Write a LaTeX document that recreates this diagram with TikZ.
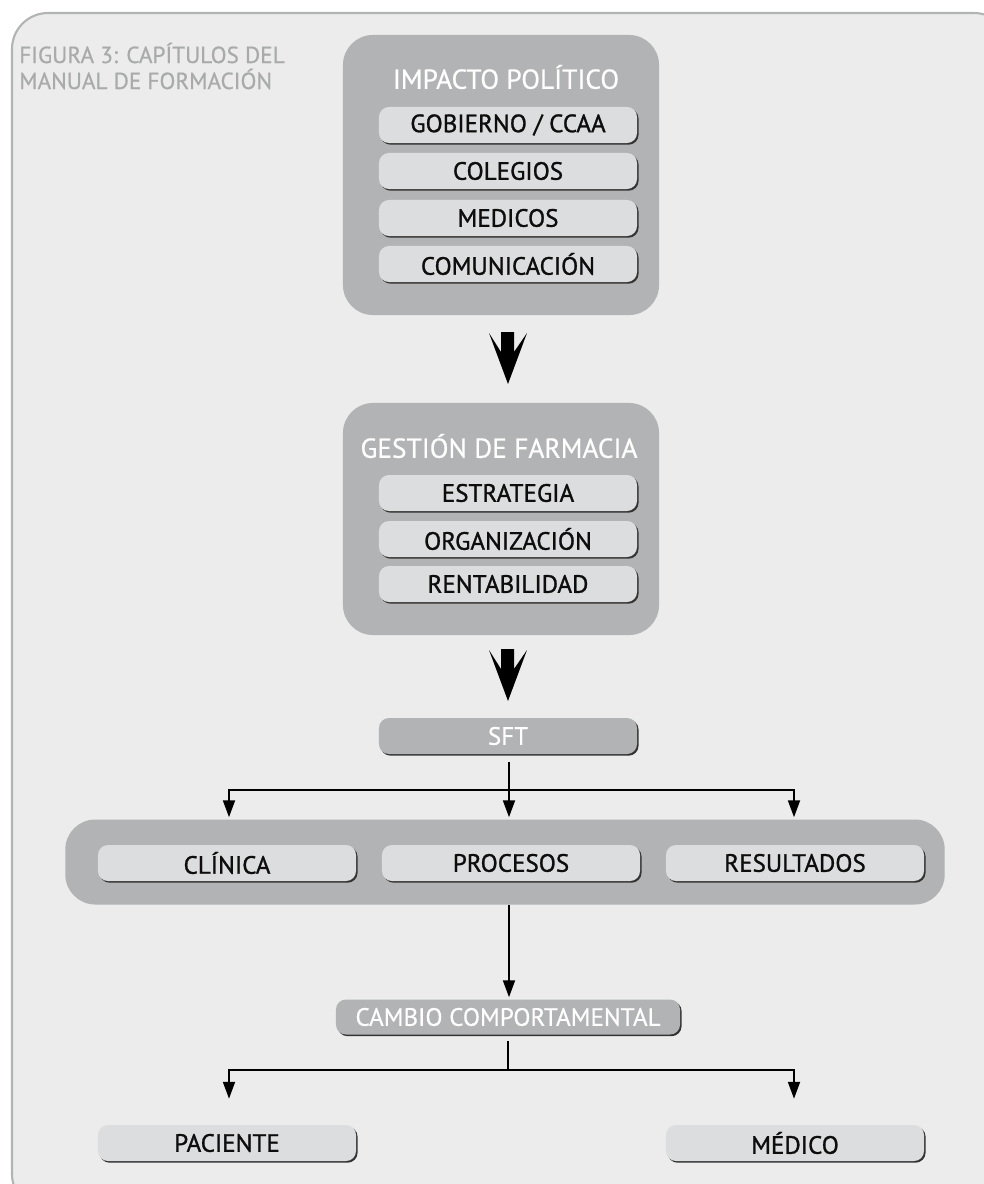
\documentclass[tikz,border=0pt]{standalone}
\usepackage{fontspec}
\setmainfont{PT Sans}
\newfontfamily\diagfont{PT Sans}[FakeBold=0.6]
\newfontfamily\pillfont{PT Sans}[FakeBold=1.1]
\usepackage{tikz}
\usepackage{xcolor}
\usetikzlibrary{positioning, arrows.meta, shadows, calc}

\definecolor{framebg}{HTML}{EBECEB}
\definecolor{frameline}{HTML}{B2B3B3}
\definecolor{groupfill}{HTML}{B2B3B4}
\definecolor{pillfill}{HTML}{DCDDDE}
\definecolor{titlegray}{HTML}{A9AAAA}

\begin{document}
\begin{tikzpicture}[
        x=0.025cm, y=-0.025cm,
        >={Triangle[length=12pt, width=8.5pt]},
        % Styles
        groupbox/.style={rectangle, fill=groupfill, rounded corners=0.75cm, inner sep=0pt},
        grouplab/.style={font=\diagfont\fontsize{19.5}{22}\selectfont, text=white, inner sep=0pt},
        figlab/.style={anchor=base west, inner sep=0pt, text=titlegray,
                font=\diagfont\fontsize{16.5}{19}\selectfont},
        pill/.style={rectangle, fill=pillfill, rounded corners=0.25cm, minimum width=6.45cm,
                minimum height=0.9cm, inner sep=0pt, font=\pillfont\fontsize{17.8}{20}\selectfont,
                text=black!95, drop shadow={shadow xshift=1.1pt, shadow yshift=-1.2pt,
                fill=black!80, opacity=1}},
        darkpill/.style={pill, fill=groupfill, text=white, font=\diagfont\fontsize{17.8}{20}\selectfont},
        arrow/.style={->, line width=1.4pt},
        line/.style={line width=1.4pt},
        pics/bigdown/.style={code={
            \fill (-7,0) -- (6,0) -- (6,20) -- (19,1) -- (0,52) -- (-19,1) -- (-7,20) -- cycle;}},
    ]

        \useasboundingbox (0,0) rectangle (984,1184);
        \begin{scope}
            \clip (0,0) rectangle (984,1184);
            \draw[fill=framebg, draw=frameline, line width=1.5pt, rounded corners=0.9cm]
                (12,13) rectangle (1010,1210);
        \end{scope}

        % Title
        \node[figlab] (title) at (19,63) {FIGURA 3: CAPÍTULOS DEL};
        \node[figlab] (title2) at (19,89) {MANUAL DE FORMACIÓN};

        % === IMPACTO POLITICO ===
        \node[groupbox, minimum width=7.9cm, minimum height=7cm] (polgroup) at (501,175) {};
        \node[grouplab] (poltitle) at (506,77) {IMPACTO POLÍTICO};
        \node[pill] (gob) at (508,125) {GOBIERNO / CCAA};
        \node[pill] (col) at (508,171) {COLEGIOS};
        \node[pill] (med) at (508,218) {MEDICOS};
        \node[pill] (com) at (508,264) {COMUNICACIÓN};

        \pic at (508,332) {bigdown};

        % === GESTION DE FARMACIA ===
        \node[groupbox, minimum width=7.9cm, minimum height=5.8cm] (gesgroup) at (501,519) {};
        \node[grouplab] (gestitle) at (499,446) {GESTIÓN DE FARMACIA};
        \node[pill] (estr) at (508,493) {ESTRATEGIA};
        \node[pill] (org) at (508,539) {ORGANIZACIÓN};
        \node[pill] (rent) at (508,584) {RENTABILIDAD};

        \pic at (508,649) {bigdown};

        % === SFT ===
        \node[darkpill] (sft) at (508,736) {SFT};

        \node[groupbox, minimum width=21.98cm, minimum height=2.125cm] (sftgroup) at (505,862) {};
        \node[pill] (clin) at (227,863) {CLÍNICA};
        \node[pill] (proc) at (511,863) {PROCESOS};
        \node[pill] (res) at (795,863) {RESULTADOS};

        \coordinate (sftsplit) at (509,790);
        \draw[arrow] ($(sft.south)+(1,8)$) -- ($(sftsplit |- sftgroup.north)+(0,-2)$);
        \draw[arrow] (sftsplit) -| ($(clin.north |- sftgroup.north)+(2,-2)$);
        \draw[arrow] (sftsplit) -| ($(res.north |- sftgroup.north)+(-1,-2)$);

        % === CAMBIO COMPORTAMENTAL ===
        \node[darkpill, minimum width=8.6cm, minimum height=0.875cm] (cambio) at (508,1017)
            {CAMBIO COMPORTAMENTAL};
        \draw[arrow] (sftsplit |- sftgroup.south) -- ($(sftsplit |- cambio.north)+(0,-2)$);

        \node[pill] (pac) at (227,1143) {PACIENTE};
        \node[pill] (medico) at (795,1143) {MÉDICO};

        \coordinate (camsplit) at (508,1070);
        \draw[line] ($(cambio.south)+(0,6)$) -- (camsplit);
        \draw[arrow] (camsplit) -| ($(pac.north)+(2,-26)$);
        \draw[arrow] (camsplit) -| ($(medico.north)+(-1,-26)$);

    \end{tikzpicture}
\end{document}
